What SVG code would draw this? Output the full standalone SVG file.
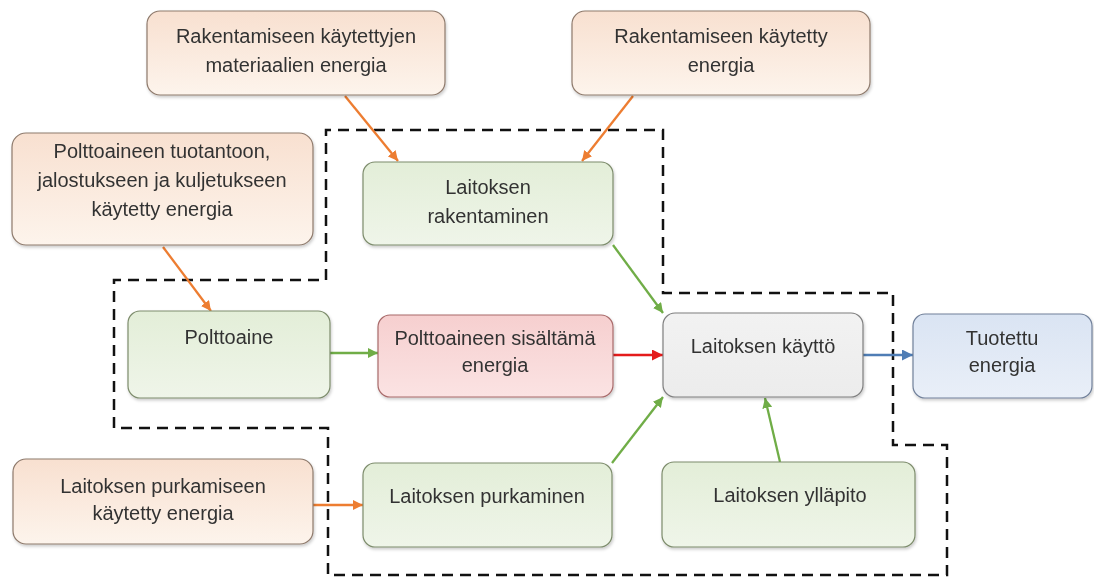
<svg xmlns="http://www.w3.org/2000/svg" width="1094" height="579" viewBox="0 0 1094 579">
<style>
text{font-family:"Liberation Sans",Arial,sans-serif;font-size:20px;fill:#333333;text-anchor:middle}
.peach{fill:url(#gPeach);stroke:#8e7a6c;stroke-width:1.2}
.green{fill:url(#gGreen);stroke:#7d8c6c;stroke-width:1.2}
.red{fill:url(#gRed);stroke:#a86a6a;stroke-width:1.2}
.gray{fill:url(#gGray);stroke:#7f7f7f;stroke-width:1.2}
.blue{fill:url(#gBlue);stroke:#71809a;stroke-width:1.2}
.box{filter:url(#sh)}
.ao{stroke:#ed7d31;stroke-width:2.3;fill:none;marker-end:url(#mO)}
.ag{stroke:#70ad47;stroke-width:2.3;fill:none;marker-end:url(#mG)}
.ar{stroke:#e41b1b;stroke-width:2.6;fill:none;marker-end:url(#mR)}
.ab{stroke:#4f7db5;stroke-width:2.6;fill:none;marker-end:url(#mB)}
.dash{fill:none;stroke:#111;stroke-width:2.5;stroke-dasharray:11 7}
</style>
<defs>
<linearGradient id="gPeach" x1="0" y1="0" x2="0" y2="1"><stop offset="0" stop-color="#f8e0d0"/><stop offset="1" stop-color="#fdf4ec"/></linearGradient>
<linearGradient id="gGreen" x1="0" y1="0" x2="0" y2="1"><stop offset="0" stop-color="#e3eed8"/><stop offset="1" stop-color="#eff5e9"/></linearGradient>
<linearGradient id="gRed" x1="0" y1="0" x2="0" y2="1"><stop offset="0" stop-color="#f6cfcf"/><stop offset="1" stop-color="#fbe3e3"/></linearGradient>
<linearGradient id="gGray" x1="0" y1="0" x2="0" y2="1"><stop offset="0" stop-color="#f2f2f2"/><stop offset="1" stop-color="#ececec"/></linearGradient>
<linearGradient id="gBlue" x1="0" y1="0" x2="0" y2="1"><stop offset="0" stop-color="#dae4f3"/><stop offset="1" stop-color="#e9eff8"/></linearGradient>
<filter id="sh" x="-5%" y="-10%" width="110%" height="125%"><feDropShadow dx="1" dy="2" stdDeviation="1.5" flood-color="#000" flood-opacity="0.2"/></filter>
<marker id="mO" viewBox="0 0 10 10" refX="10" refY="5" markerWidth="10" markerHeight="10" markerUnits="userSpaceOnUse" orient="auto"><path d="M0,0 L10,5 L0,10 z" fill="#ed7d31"/></marker>
<marker id="mG" viewBox="0 0 10 10" refX="10" refY="5" markerWidth="10" markerHeight="10" markerUnits="userSpaceOnUse" orient="auto"><path d="M0,0 L10,5 L0,10 z" fill="#70ad47"/></marker>
<marker id="mR" viewBox="0 0 10 10" refX="10" refY="5" markerWidth="11" markerHeight="11" markerUnits="userSpaceOnUse" orient="auto"><path d="M0,0 L10,5 L0,10 z" fill="#e41b1b"/></marker>
<marker id="mB" viewBox="0 0 10 10" refX="10" refY="5" markerWidth="11" markerHeight="11" markerUnits="userSpaceOnUse" orient="auto"><path d="M0,0 L10,5 L0,10 z" fill="#4f7db5"/></marker>
</defs>
<rect width="1094" height="579" fill="#ffffff"/>
<g id="boundary">
<path class="dash" d="M326,280 L326,130 L663,130 L663,293 L893,293 L893,445 L947,445 L947,575 L328,575 L328,428 L114,428 L114,280 Z"/>
</g>
<g id="connectors">
<line class="ao" x1="345" y1="96" x2="398" y2="161"/>
<line class="ao" x1="633" y1="96" x2="582" y2="161"/>
<line class="ao" x1="163" y1="247" x2="211" y2="311"/>
<line class="ag" x1="330" y1="353" x2="378" y2="353"/>
<line class="ar" x1="613" y1="355" x2="663" y2="355"/>
<line class="ag" x1="613" y1="245" x2="663" y2="313"/>
<line class="ag" x1="612" y1="463" x2="663" y2="397"/>
<line class="ag" x1="780" y1="462" x2="765" y2="398"/>
<line class="ab" x1="863" y1="355" x2="913" y2="355"/>
<line class="ao" x1="313" y1="505" x2="363" y2="505"/>
</g>
<g id="n-materiaalit" class="box">
<rect class="peach" x="147" y="11" width="298" height="84" rx="13"/>
<text x="296" y="43">Rakentamiseen käytettyjen</text>
<text x="296" y="72">materiaalien energia</text>
</g>
<g id="n-rakentamisenergia" class="box">
<rect class="peach" x="572" y="11" width="298" height="84" rx="13"/>
<text x="721" y="43">Rakentamiseen käytetty</text>
<text x="721" y="72">energia</text>
</g>
<g id="n-polttoainetuotanto" class="box">
<rect class="peach" x="12" y="133" width="301" height="112" rx="14"/>
<text x="162" y="158">Polttoaineen tuotantoon,</text>
<text x="162" y="187">jalostukseen ja kuljetukseen</text>
<text x="162" y="216">käytetty energia</text>
</g>
<g id="n-rakentaminen" class="box">
<rect class="green" x="363" y="162" width="250" height="83" rx="12"/>
<text x="488" y="194">Laitoksen</text>
<text x="488" y="223">rakentaminen</text>
</g>
<g id="n-polttoaine" class="box">
<rect class="green" x="128" y="311" width="202" height="87" rx="12"/>
<text x="229" y="344">Polttoaine</text>
</g>
<g id="n-sisaltama" class="box">
<rect class="red" x="378" y="315" width="235" height="82" rx="12"/>
<text x="495" y="345">Polttoaineen sisältämä</text>
<text x="495" y="372">energia</text>
</g>
<g id="n-kaytto" class="box">
<rect class="gray" x="663" y="313" width="200" height="84" rx="12"/>
<text x="763" y="353">Laitoksen käyttö</text>
</g>
<g id="n-tuotettu" class="box">
<rect class="blue" x="913" y="314" width="179" height="84" rx="12"/>
<text x="1002" y="345">Tuotettu</text>
<text x="1002" y="372">energia</text>
</g>
<g id="n-purkamisenergia" class="box">
<rect class="peach" x="13" y="459" width="300" height="85" rx="13"/>
<text x="163" y="493">Laitoksen purkamiseen</text>
<text x="163" y="520">käytetty energia</text>
</g>
<g id="n-purkaminen" class="box">
<rect class="green" x="363" y="463" width="249" height="84" rx="12"/>
<text x="487" y="503">Laitoksen purkaminen</text>
</g>
<g id="n-yllapito" class="box">
<rect class="green" x="662" y="462" width="253" height="85" rx="12"/>
<text x="790" y="502">Laitoksen ylläpito</text>
</g>
</svg>
